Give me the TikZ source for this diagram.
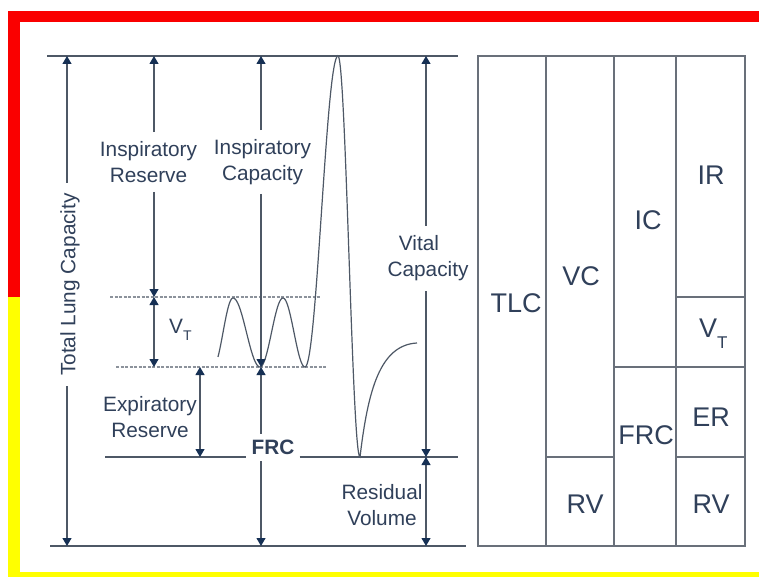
\documentclass[tikz,border=0pt]{standalone}
\usepackage{fontspec}
\setmainfont{Liberation Sans}
\usetikzlibrary{arrows.meta}
\definecolor{linec}{RGB}{78,88,102}
\definecolor{arrc}{RGB}{22,48,84}
\definecolor{txtc}{RGB}{48,64,90}
\definecolor{tabc}{RGB}{105,112,122}
\definecolor{dshc}{RGB}{140,146,155}
\definecolor{bred}{RGB}{250,0,0}
\definecolor{byel}{RGB}{255,255,0}
\begin{document}
\begin{tikzpicture}[x=1pt,y=-1pt,
  lab/.style={font=\fontsize{20.8}{26}\selectfont, text=txtc, align=center, inner sep=0pt},
  big/.style={font=\fontsize{27}{32}\selectfont, text=txtc, inner sep=0pt},
  ln/.style={draw=linec, line width=1.3pt},
  dim/.style={draw=linec, line width=1.1pt},
  tipe/.style={-{Triangle[width=9pt,length=8pt,color=arrc]}},
  tipb/.style={{Triangle[width=9pt,length=8pt,color=arrc]}-{Triangle[width=9pt,length=8pt,color=arrc]}},
  dsh/.style={draw=dshc, line width=1.2pt, dash pattern=on 3pt off 1.5pt},
  tab/.style={draw=tabc, line width=1.5pt},
  curve/.style={draw=linec, line width=1.2pt}
]
\useasboundingbox (0,0) rectangle (759,577);
\fill[white] (0,0) rectangle (759,577);
% frame
\fill[bred] (8,11) rectangle (759,22.5);
\fill[bred] (8,11) rectangle (20,297);
\fill[byel] (8,297) rectangle (20,577);
\fill[byel] (8,572) rectangle (759,577);

% main horizontal lines
\coordinate (tl) at (47,56); \coordinate (tr) at (458,56);
\coordinate (bl) at (50,546); \coordinate (br) at (466,546);
\draw[ln] (tl) -- (tr);
\draw[ln] (bl) -- (br);

% dashed lines
\coordinate (d1l) at (110,297); \coordinate (d1r) at (320,297);
\coordinate (d2l) at (116,367); \coordinate (d2r) at (327,367);
\draw[dsh] (d1l) -- (d1r);
\draw[dsh] (d2l) -- (d2r);

% FRC line
\coordinate (fl) at (105,457); \coordinate (fr) at (458,457);
\node[lab, font=\fontsize{20.8}{26}\selectfont\bfseries, inner xsep=5pt, inner ysep=6pt] (frc) at (273,447.5) {FRC};
\draw[ln] (fl) -- (fl -| frc.west);
\draw[ln] (frc.east |- fr) -- (fr);

% spirogram
\draw[curve]
  plot[domain=218:233, samples=25] (\x, {332.5-34.5*cos(180*(\x-233)/20)})
  -- plot[domain=233:260, samples=30] (\x, {332.5-34.5*cos(180*(\x-233)/27)})
  -- plot[domain=260:283, samples=30] (\x, {332.5-34.5*cos(180*(\x-283)/23)})
  -- plot[domain=283:305, samples=30] (\x, {332.5-34.5*cos(180*(\x-283)/22)})
  -- plot[domain=305:338, samples=50] (\x, {211.5+155.5*cos(180*(\x-305)/33)})
  -- plot[domain=338:360, samples=50] (\x, {256.5-200.5*cos(180*(\x-338)/22)})
  .. controls (368,390) and (380,345) .. (417,343);

% Total lung capacity
\coordinate (tlcT) at (67,56); \coordinate (tlcB) at (67,546);
\node[lab, rotate=90, inner xsep=10pt] (tlcl) at (70,284.5) {Total Lung Capacity};
\draw[dim, tipe] (tlcT |- tlcl.east) -- (tlcT);
\draw[dim, tipe] (tlcT |- tlcl.west) -- (tlcB);

% Inspiratory reserve
\coordinate (irT) at (154,56); \coordinate (irB) at (154,297);
\node[lab, inner ysep=9pt] (irl) at (148.5,162) {Inspiratory\\Reserve};
\draw[dim, tipe] (irT |- irl.north) -- (irT);
\draw[dim, tipe] (irT |- irl.south) -- (irB);

% tidal volume
\coordinate (vtT) at (154,297); \coordinate (vtB) at (154,367);
\draw[dim, tipb] (vtT) -- (vtB);
\node[lab, anchor=base west] (vtl) at (169,333) {V\raisebox{-7pt}{\fontsize{14}{14}\selectfont T}};

% Inspiratory capacity
\coordinate (icT) at (261,56); \coordinate (icB) at (261,367);
\node[lab, inner ysep=9pt] (icl) at (262.5,162) {Inspiratory\\Capacity};
\draw[dim, tipe] (icT |- icl.north) -- (icT);
\draw[dim, tipe] (icT |- icl.south) -- (icB);

% Expiratory reserve
\coordinate (erT) at (200,367); \coordinate (erB) at (200,457);
\draw[dim, tipb] (erT) -- (erB);
\node[lab] (erl) at (150,417) {Expiratory\\Reserve};

% FRC arrow
\coordinate (frT) at (261,367); \coordinate (frB) at (261,546);
\draw[dim, tipe] (frT |- frc.north) -- (frT);
\draw[dim, tipe] (frT |- frc.south) -- (frB);

% Vital capacity
\coordinate (vcT) at (426,56); \coordinate (vcB) at (426,457);
\node[lab, inner ysep=10pt] (vcl) at (428,258.5) {Vital\hspace*{18pt}\\Capacity};
\draw[dim, tipe] (vcT |- vcl.north) -- (vcT);
\draw[dim, tipe] (vcT |- vcl.south) -- (vcB);

% Residual volume
\coordinate (rvT) at (426,457); \coordinate (rvB) at (426,546);
\draw[dim, tipb] (rvT) -- (rvB);
\node[lab] (rvl) at (382,505) {Residual\\Volume};

% table
\draw[tab] (478,56) rectangle (745,546);
\draw[tab] (546,56) -- (546,546);
\draw[tab] (614,56) -- (614,546);
\draw[tab] (676,56) -- (676,546);
\draw[tab] (546,457) -- (614,457);
\draw[tab] (614,367) -- (745,367);
\draw[tab] (676,297) -- (745,297);
\draw[tab] (676,457) -- (745,457);

\node[big] (ttlc) at (516,303) {TLC};
\node[big] (tvc) at (581,276) {VC};
\node[big] (tic) at (648,220) {IC};
\node[big] (tir) at (711,175) {IR};
\node[big, anchor=base west] (tvt) at (699,337) {V\raisebox{-11pt}{\fontsize{17}{17}\selectfont T}};
\node[big] (tfrc) at (646,435) {FRC};
\node[big] (ter) at (711,417) {ER};
\node[big] (trv1) at (585,504) {RV};
\node[big] (trv2) at (711,504) {RV};
\end{tikzpicture}
\end{document}
